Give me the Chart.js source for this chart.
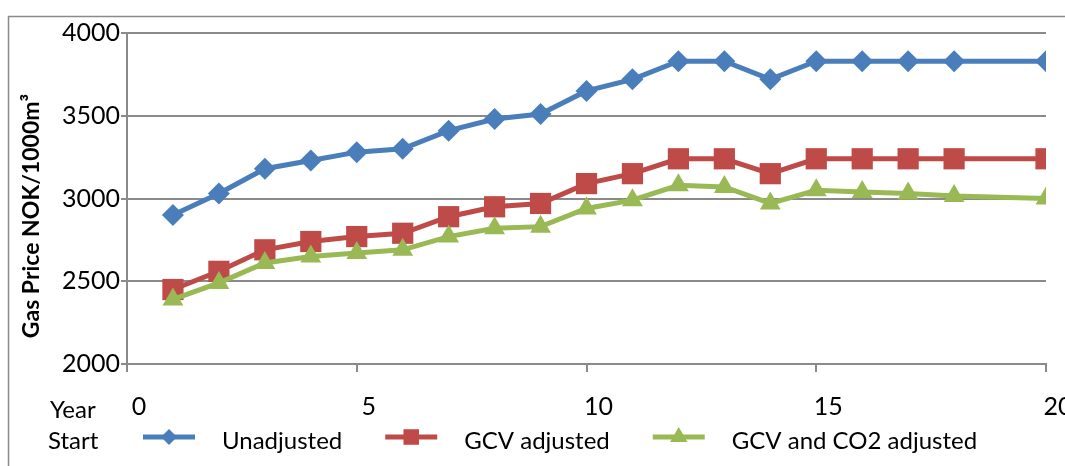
<!DOCTYPE html>
<html>
<head>
<meta charset="utf-8">
<script src="https://cdn.jsdelivr.net/npm/chart.js@4"></script>
<style>
  html, body { margin: 0; padding: 0; background: #fff; }
  #wrap { position: relative; width: 1065px; height: 466px; }
</style>
</head>
<body>
<div id="wrap"><canvas id="c" width="1065" height="466"></canvas></div>
<script>
const years = [1, 2, 3, 4, 5, 6, 7, 8, 9, 10, 11, 12, 13, 14, 15, 16, 17, 18, 20];
const unadjusted = [2900, 3030, 3180, 3230, 3280, 3300, 3410, 3480, 3510, 3650, 3720, 3830, 3830, 3720, 3830, 3830, 3830, 3830, 3830];
const gcvAdjusted = [2450, 2560, 2690, 2740, 2770, 2790, 2890, 2950, 2970, 3090, 3150, 3240, 3240, 3150, 3240, 3240, 3240, 3240, 3240];
const gcvCo2Adjusted = [2390, 2490, 2610, 2650, 2670, 2690, 2770, 2820, 2830, 2940, 2990, 3080, 3070, 2970, 3050, 3040, 3030, 3015, 3000];
const seriesNames = ["Unadjusted", "GCV adjusted", "GCV and CO2 adjusted"];
const seriesColors = ["#4A7EBB", "#BE4B48", "#98B954"];
const seriesShapes = ["rectRot", "rect", "triangle"];
const seriesRadius = [11, 15, 12];
const legendRadius = [8, 11, 10];
const yTitle = "Gas Price NOK/1000m³";

const toPoints = (vals) => vals.map((v, i) => ({ x: years[i], y: v }));
const seriesValues = [unadjusted, gcvAdjusted, gcvCo2Adjusted];

const gridColor = "#8a8a8a";
const font = "Lato";

const frameAndLegend = {
    id: "frameAndLegend",
    beforeDraw(chart) {
        const ctx = chart.ctx;
        ctx.save();
        ctx.strokeStyle = gridColor;
        ctx.lineWidth = 1.5;
        ctx.beginPath();
        ctx.moveTo(8.5, 466);
        ctx.lineTo(8.5, 16.5);
        ctx.lineTo(1065, 16.5);
        ctx.stroke();
        ctx.restore();
    },
    afterDraw(chart) {
        const ctx = chart.ctx;
        ctx.save();

        // y axis title, sits a little below the middle of the plot
        ctx.save();
        ctx.translate(32, 216);
        ctx.rotate(-Math.PI / 2);
        ctx.font = "bold 23px " + font;
        ctx.textAlign = "center";
        ctx.textBaseline = "middle";
        ctx.fillStyle = "#000";
        ctx.fillText(yTitle, 0, 0);
        ctx.restore();

        ctx.font = "24px " + font;
        ctx.textBaseline = "middle";
        ctx.fillStyle = "#000";
        ctx.fillText("Year", 50, 410);
        ctx.fillText("Start", 48, 441);
        let x = 143;
        const y = 437;
        chart.data.datasets.forEach((ds, i) => {
            ctx.strokeStyle = ds.borderColor;
            ctx.lineWidth = 5;
            ctx.beginPath();
            ctx.moveTo(x, y);
            ctx.lineTo(x + 52, y);
            ctx.stroke();
            ctx.fillStyle = ds.backgroundColor;
            Chart.helpers.drawPoint(ctx, {
                pointStyle: ds.pointStyle,
                radius: legendRadius[i],
                rotation: 0,
                borderWidth: 0
            }, x + 26, y);
            ctx.fillStyle = "#000";
            ctx.fillText(ds.label, x + 79, 441);
            x += 79 + ctx.measureText(ds.label).width + 43;
        });
        ctx.restore();
    }
};

new Chart(document.getElementById("c"), {
    type: "line",
    data: {
        datasets: seriesNames.map((name, i) => ({
            label: name,
            data: toPoints(seriesValues[i]),
            borderColor: seriesColors[i],
            backgroundColor: seriesColors[i],
            pointBackgroundColor: seriesColors[i],
            pointBorderWidth: 0,
            pointStyle: seriesShapes[i],
            pointRadius: seriesRadius[i],
            borderWidth: 5,
            tension: 0,
            order: 3 - i
        }))
    },
    options: {
        responsive: false,
        animation: false,
        layout: { padding: { top: 33, right: 19, bottom: 42, left: 0 } },
        plugins: {
            legend: { display: false },
            tooltip: { enabled: false }
        },
        scales: {
            x: {
                type: "linear",
                min: 0,
                max: 20,
                ticks: {
                    stepSize: 5,
                    color: "#000",
                    font: { family: font, size: 25 },
                    padding: 20,
                    labelOffset: 12,
                    maxRotation: 0,
                    callback: (v) => String(v)
                },
                grid: { drawOnChartArea: false, color: gridColor, lineWidth: 2, tickLength: 8 },
                border: { color: gridColor, width: 2 },
                afterFit(scale) {
                    scale.height = 60;
                    scale.paddingRight = 0;
                    scale.paddingLeft = 0;
                }
            },
            y: {
                min: 2000,
                max: 4000,
                ticks: {
                    stepSize: 500,
                    color: "#000",
                    font: { family: font, size: 25 },
                    padding: 1,
                    callback: (v) => String(v)
                },
                grid: { color: gridColor, lineWidth: 2, tickLength: 6 },
                border: { color: gridColor, width: 2 },
                afterFit(scale) { scale.width = 127; }
            }
        }
    },
    plugins: [frameAndLegend]
});
</script>
</body>
</html>
